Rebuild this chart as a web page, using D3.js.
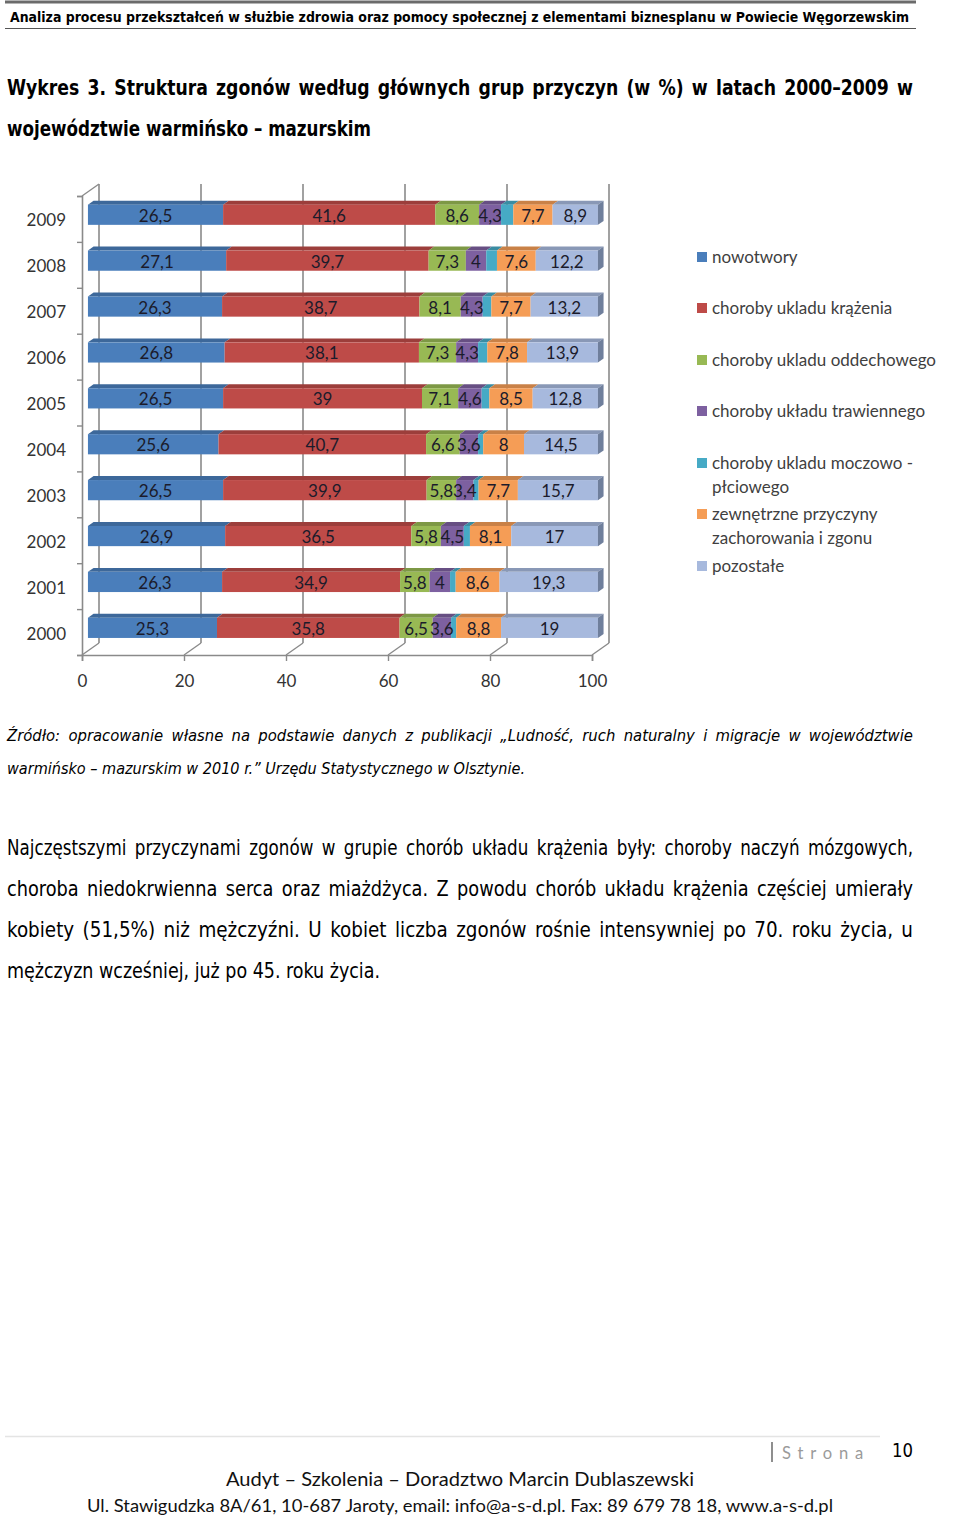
<!DOCTYPE html>
<html>
<head>
<meta charset="utf-8">
<script src="https://cdn.jsdelivr.net/npm/d3@7/dist/d3.min.js"></script>
<style>
  html, body { margin: 0; padding: 0; background: #fff; }
  svg { display: block; }
</style>
</head>
<body>
<svg id="page" width="960" height="1517"></svg>
<script>
// data (values in %)
const years = [2009, 2008, 2007, 2006, 2005, 2004, 2003, 2002, 2001, 2000];
const nowotwory = [26.5, 27.1, 26.3, 26.8, 26.5, 25.6, 26.5, 26.9, 26.3, 25.3];
const krazenia = [41.6, 39.7, 38.7, 38.1, 39, 40.7, 39.9, 36.5, 34.9, 35.8];
const oddechowe = [8.6, 7.3, 8.1, 7.3, 7.1, 6.6, 5.8, 5.8, 5.8, 6.5];
const trawienne = [4.3, 4, 4.3, 4.3, 4.6, 3.6, 3.4, 4.5, 4, 3.6];
const moczowo = [2.4, 2.1, 1.7, 1.8, 1.5, 1.0, 1.0, 1.2, 1.1, 1.0]; // unlabelled, estimated
const zewnetrzne = [7.7, 7.6, 7.7, 7.8, 8.5, 8, 7.7, 8.1, 8.6, 8.8];
const pozostale = [8.9, 12.2, 13.2, 13.9, 12.8, 14.5, 15.7, 17, 19.3, 19];

const seriesNames = [
  'nowotwory',
  'choroby ukladu krążenia',
  'choroby ukladu oddechowego',
  'choroby układu trawiennego',
  'choroby ukladu moczowo - płciowego',
  'zewnętrzne przyczyny zachorowania i zgonu',
  'pozostałe'
];
const legendLines = [
  ['nowotwory'],
  ['choroby ukladu krążenia'],
  ['choroby ukladu oddechowego'],
  ['choroby układu trawiennego'],
  ['choroby ukladu moczowo -', 'płciowego'],
  ['zewnętrzne przyczyny', 'zachorowania i zgonu'],
  ['pozostałe']
];
const seriesValues = [nowotwory, krazenia, oddechowe, trawienne, moczowo, zewnetrzne, pozostale];
const seriesColors = ['#4A7EBB', '#BE4B48', '#98B954', '#7D60A0', '#46AAC5', '#F59D56', '#A7B9DD'];
const labelled = [true, true, true, true, false, true, true];
const xTicks = [0, 20, 40, 60, 80, 100];

const NARROW = "'Liberation Sans Narrow', 'Arial Narrow', 'DejaVu Sans Condensed', sans-serif";
const CAL = "Lato, 'Open Sans', sans-serif";

const svg = d3.select('#page');
svg.append('rect').attr('width', 960).attr('height', 1517).attr('fill', '#fff');

// ---------- text helpers ----------
function fitLine(text, x, y, width, opts) {
  const t = svg.append('text')
    .attr('x', x).attr('y', y)
    .attr('font-family', opts.family)
    .attr('font-size', opts.size)
    .attr('font-weight', opts.weight || 'normal')
    .attr('font-style', opts.style || 'normal')
    .attr('fill', opts.fill || '#000')
    .text(text);
  if (width) t.attr('textLength', width).attr('lengthAdjust', 'spacingAndGlyphs');
  return t;
}

function justifyLine(text, x, y, width, opts) {
  const words = text.split(' ');
  const g = svg.append('g');
  const nodes = words.map((w) => g.append('text')
    .attr('y', y)
    .attr('font-family', opts.family)
    .attr('font-size', opts.size)
    .attr('font-weight', opts.weight || 'normal')
    .attr('font-style', opts.style || 'normal')
    .attr('fill', opts.fill || '#000')
    .text(w));
  const widths = nodes.map((n) => n.node().getComputedTextLength());
  const total = d3.sum(widths);
  const minGap = opts.size * 0.4;
  let k = 1;
  if (total + minGap * (words.length - 1) > width) k = (width - minGap * (words.length - 1)) / total;
  const gap = (width - total * k) / (words.length - 1);
  let cx = x;
  nodes.forEach((n, i) => {
    n.attr('x', cx);
    if (k !== 1) n.attr('textLength', widths[i] * k).attr('lengthAdjust', 'spacingAndGlyphs');
    cx += widths[i] * k + gap;
  });
}

// ---------- page header ----------
svg.append('line').attr('x1', 5).attr('x2', 916).attr('y1', 2).attr('y2', 2)
  .attr('stroke', '#6b6b6b').attr('stroke-width', 3);
fitLine('Analiza procesu przekształceń w służbie zdrowia oraz pomocy społecznej z elementami biznesplanu w Powiecie Węgorzewskim',
  10, 22, 899, { family: NARROW, size: 14.5, weight: 'bold' });
svg.append('line').attr('x1', 5).attr('x2', 916).attr('y1', 28.5).attr('y2', 28.5)
  .attr('stroke', '#555').attr('stroke-width', 1.2);

const titleOpts = { family: NARROW, size: 20.5, weight: 'bold' };
justifyLine('Wykres 3. Struktura zgonów według głównych grup przyczyn (w %) w latach 2000–2009 w', 7, 95, 906, titleOpts);
fitLine('województwie warmińsko – mazurskim', 7, 136, 364, titleOpts);

// ---------- chart ----------
const DX = 17, DY = -12;           // depth of the 3-D box
const F0 = 0.35, F1 = 0.68;        // bar depth slice
const x = d3.scaleLinear().domain([0, 100]).range([82, 592]);
const y = d3.scaleBand().domain(years).range([196, 655]).paddingInner(0.56).paddingOuter(0.28);
const yEdge = d3.scaleLinear().domain([0, 10]).range([655, 196]);

const chart = svg.append('g');
const GRID = '#8a8a8a';

// back wall gridlines
chart.append('g').selectAll('line').data(xTicks).join('line')
  .attr('x1', (d) => x(d) + DX).attr('x2', (d) => x(d) + DX)
  .attr('y1', 196 + DY).attr('y2', 655 + DY)
  .attr('stroke', GRID).attr('stroke-width', 1.6);
// floor diagonals
chart.append('g').selectAll('line').data(xTicks).join('line')
  .attr('x1', (d) => x(d)).attr('x2', (d) => x(d) + DX)
  .attr('y1', 655).attr('y2', 655 + DY)
  .attr('stroke', GRID).attr('stroke-width', 1.4);
// left wall top edge
chart.append('line').attr('x1', x(0)).attr('y1', 196).attr('x2', x(0) + DX).attr('y2', 196 + DY)
  .attr('stroke', GRID).attr('stroke-width', 1.4);

// bottom axis
const xAxis = chart.append('g').attr('transform', 'translate(0,655)')
  .call(d3.axisBottom(x).tickValues(xTicks).tickSize(6).tickPadding(14).tickFormat(d3.format('d')));
xAxis.select('.domain').attr('stroke', GRID).attr('stroke-width', 1.6);
xAxis.selectAll('.tick line').attr('stroke', GRID).attr('stroke-width', 1.4);
xAxis.selectAll('.tick text').attr('font-family', CAL).attr('font-size', 17).attr('fill', '#333');

// left axis (category boundaries)
const yAxisLine = chart.append('g').attr('transform', `translate(${x(0)},0)`)
  .call(d3.axisLeft(yEdge).ticks(10).tickSize(5).tickFormat(''));
yAxisLine.select('.domain').attr('stroke', GRID).attr('stroke-width', 1.6);
yAxisLine.selectAll('.tick line').attr('stroke', GRID).attr('stroke-width', 1.4);

const yAxis = chart.append('g').attr('transform', `translate(${x(0)},2)`)
  .call(d3.axisLeft(y).tickSize(0).tickPadding(16));
yAxis.select('.domain').remove();
yAxis.selectAll('.tick text').attr('font-family', CAL).attr('font-size', 17).attr('fill', '#333');

// stacked data
const keys = seriesNames.map((d, i) => 's' + i);
const table = years.map((yr, r) => {
  const row = { year: yr };
  keys.forEach((k, i) => { row[k] = seriesValues[i][r]; });
  return row;
});
const stacked = d3.stack().keys(keys)(table);

const ox0 = F0 * DX, oy0 = F0 * DY;
const dd = F1 - F0;
const bars = chart.append('g');
stacked.forEach((layer, si) => {
  const col = seriesColors[si];
  const top = d3.color(col).darker(0.55).formatHex();
  const g = bars.append('g');
  layer.forEach((d) => {
    const xa = x(d[0]) + ox0, xb = x(d[1]) + ox0;
    const yt = y(d.data.year) + oy0;
    g.append('polygon')
      .attr('points', [[xa, yt], [xb, yt], [xb + dd * DX, yt + dd * DY], [xa + dd * DX, yt + dd * DY]].join(' '))
      .attr('fill', top);
    g.append('rect')
      .attr('x', xa).attr('y', yt).attr('width', xb - xa).attr('height', y.bandwidth())
      .attr('fill', col);
    if (si === stacked.length - 1) {
      g.append('polygon')
        .attr('points', [[xb, yt], [xb + dd * DX, yt + dd * DY], [xb + dd * DX, yt + dd * DY + y.bandwidth()], [xb, yt + y.bandwidth()]].join(' '))
        .attr('fill', '#6F7F9C');
    }
  });
});

// data labels
const fmt = (v) => String(v).replace('.', ',');
const labels = chart.append('g').attr('font-family', CAL).attr('font-size', 17)
  .attr('fill', '#1b1b2b').attr('text-anchor', 'middle');
stacked.forEach((layer, si) => {
  if (!labelled[si]) return;
  layer.forEach((d) => {
    labels.append('text')
      .attr('x', (x(d[0]) + x(d[1])) / 2 + ox0)
      .attr('y', y(d.data.year) + oy0 + y.bandwidth() / 2 + 7)
      .text(fmt(d.data[keys[si]]));
  });
});

// legend
const legendY = [257, 308, 360, 411, 463, 514, 566];
const legend = svg.append('g').attr('font-family', CAL).attr('font-size', 17).attr('fill', '#404040');
legendLines.forEach((lines, i) => {
  legend.append('rect').attr('x', 697).attr('y', legendY[i] - 5).attr('width', 10).attr('height', 10)
    .attr('fill', seriesColors[i]);
  lines.forEach((ln, j) => {
    legend.append('text').attr('x', 712).attr('y', legendY[i] + 6 + j * 24).text(ln);
  });
});

// ---------- source note ----------
const srcOpts = { family: NARROW, size: 16.5, style: 'italic' };
justifyLine('Źródło: opracowanie własne na podstawie danych z publikacji „Ludność, ruch naturalny i migracje w województwie', 7, 741, 906, srcOpts);
fitLine('warmińsko – mazurskim w 2010 r.” Urzędu Statystycznego w Olsztynie.', 7, 774, 518, srcOpts);

// ---------- paragraph ----------
const pOpts = { family: NARROW, size: 21 };
justifyLine('Najczęstszymi przyczynami zgonów w grupie chorób układu krążenia były: choroby naczyń mózgowych,', 7, 855, 906, pOpts);
justifyLine('choroba niedokrwienna serca oraz miażdżyca. Z powodu chorób układu krążenia częściej umierały', 7, 896, 906, pOpts);
justifyLine('kobiety (51,5%) niż mężczyźni. U kobiet liczba zgonów rośnie intensywniej po 70. roku życia, u', 7, 937, 906, pOpts);
fitLine('mężczyzn wcześniej, już po 45. roku życia.', 7, 978, 373, pOpts);

// ---------- footer ----------
svg.append('line').attr('x1', 5).attr('x2', 880).attr('y1', 1436.5).attr('y2', 1436.5)
  .attr('stroke', '#e4e4e4').attr('stroke-width', 1.5);
svg.append('line').attr('x1', 772).attr('x2', 772).attr('y1', 1442).attr('y2', 1462)
  .attr('stroke', '#444').attr('stroke-width', 1.2);
fitLine('Strona', 782, 1459, 88, { family: CAL, size: 17, fill: '#9a9a9a' }).attr('letter-spacing', 7);
fitLine('10', 892, 1457, 21, { family: NARROW, size: 19 });
fitLine('Audyt – Szkolenia – Doradztwo Marcin Dublaszewski', 226, 1486, 468, { family: CAL, size: 20, fill: '#111' });
fitLine('Ul. Stawigudzka 8A/61, 10-687 Jaroty, email: info@a-s-d.pl. Fax: 89 679 78 18, www.a-s-d.pl', 87, 1512, 746, { family: CAL, size: 18, fill: '#111' });
</script>
</body>
</html>
